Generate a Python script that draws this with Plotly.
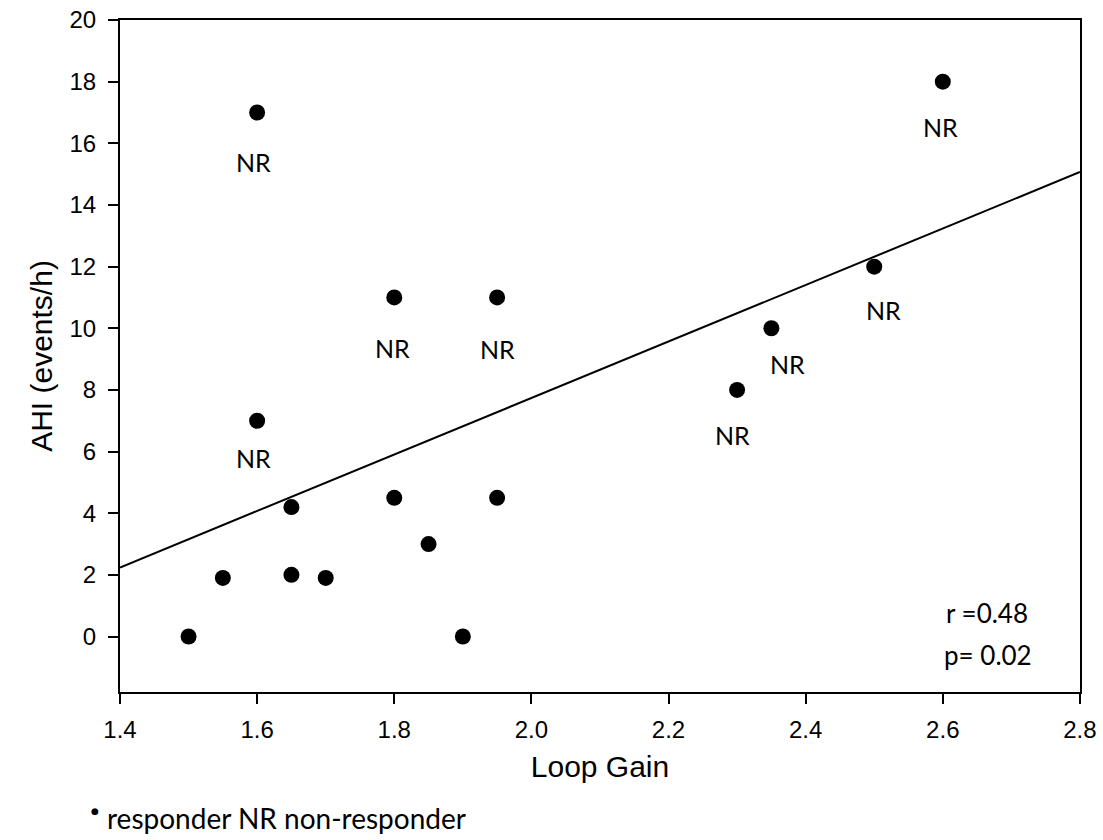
import plotly.graph_objects as go

# Data
loop_gain = [1.5, 1.55, 1.6, 1.6, 1.65, 1.65, 1.7, 1.8, 1.8, 1.85, 1.9, 1.95, 1.95, 2.3, 2.35, 2.5, 2.6]
ahi = [0, 1.9, 17, 7, 4.2, 2.0, 1.9, 11, 4.5, 3.0, 0, 11, 4.5, 8, 10, 12, 18]

# regression line endpoints
fit_x = [1.4, 2.8]
fit_y = [2.24, 15.07]

# "NR" (non-responder) label positions
nr_x = [1.595, 1.595, 1.798, 1.95, 2.293, 2.374, 2.514, 2.597]
nr_y = [15.38, 5.79, 9.37, 9.33, 6.54, 8.85, 10.6, 16.52]

x_ticks = [1.4, 1.6, 1.8, 2.0, 2.2, 2.4, 2.6, 2.8]
y_ticks = [0, 2, 4, 6, 8, 10, 12, 14, 16, 18, 20]

stats_text = ["r =0.48", "p= 0.02"]

ARIAL = "Liberation Sans, Arial, sans-serif"
CAL = "Lato, Open Sans, sans-serif"

fig = go.Figure()
fig.add_trace(go.Scatter(x=fit_x, y=fit_y, mode="lines",
                         line=dict(color="black", width=2), showlegend=False,
                         hoverinfo="skip"))
fig.add_trace(go.Scatter(x=loop_gain, y=ahi, mode="markers",
                         marker=dict(color="black", size=16), showlegend=False))

for xx, yy in zip(nr_x, nr_y):
    fig.add_annotation(x=xx, y=yy, xref="x", yref="y", text="NR", showarrow=False,
                       xanchor="center", yanchor="middle",
                       font=dict(family=CAL, size=25, color="black"))

fig.add_annotation(x=0.903, y=0.1176, xref="paper", yref="paper", text=stats_text[0],
                   showarrow=False, xanchor="center", yanchor="middle",
                   font=dict(family=CAL, size=26, color="black"))
fig.add_annotation(x=0.904, y=0.055, xref="paper", yref="paper", text=stats_text[1],
                   showarrow=False, xanchor="center", yanchor="middle",
                   font=dict(family=CAL, size=26, color="black"))

fig.add_annotation(x=-0.0156, y=-0.188, xref="paper", yref="paper",
                   text="responder NR non-responder", xanchor="left", yanchor="middle",
                   showarrow=False, font=dict(family=CAL, size=28, color="black"))
fig.add_annotation(x=-0.026, y=-0.177, xref="paper", yref="paper", text="●",
                   showarrow=False, xanchor="center", yanchor="middle",
                   font=dict(family="DejaVu Sans", size=9, color="black"))

axis_common = dict(showline=True, linecolor="black", linewidth=2, mirror=True,
                   ticks="outside", ticklen=10, tickwidth=2, tickcolor="black",
                   showgrid=False, zeroline=False, automargin=False,
                   tickfont=dict(family=ARIAL, size=24, color="black"))

fig.update_layout(
    width=1103, height=840,
    margin=dict(l=120, r=23, t=20, b=148),
    plot_bgcolor="white", paper_bgcolor="white",
    xaxis=dict(range=[1.4, 2.8001], tickvals=x_ticks,
               ticktext=[f"{v:.1f}" for v in x_ticks], ticklabelstandoff=5,
               title=dict(text="Loop Gain", font=dict(family=ARIAL, size=30, color="black"),
                          standoff=14),
               **axis_common),
    yaxis=dict(range=[-1.8, 20.001], tickvals=y_ticks, ticklabelstandoff=7,
               title=dict(text="AHI (events/h)", font=dict(family=ARIAL, size=30, color="black"),
                          standoff=8),
               **axis_common),
)

# remove the default 8px page margin so the figure fills the window exactly
fig.write_html("out.html", config={"displayModeBar": False},
               post_script="document.body.style.margin='0px';")
